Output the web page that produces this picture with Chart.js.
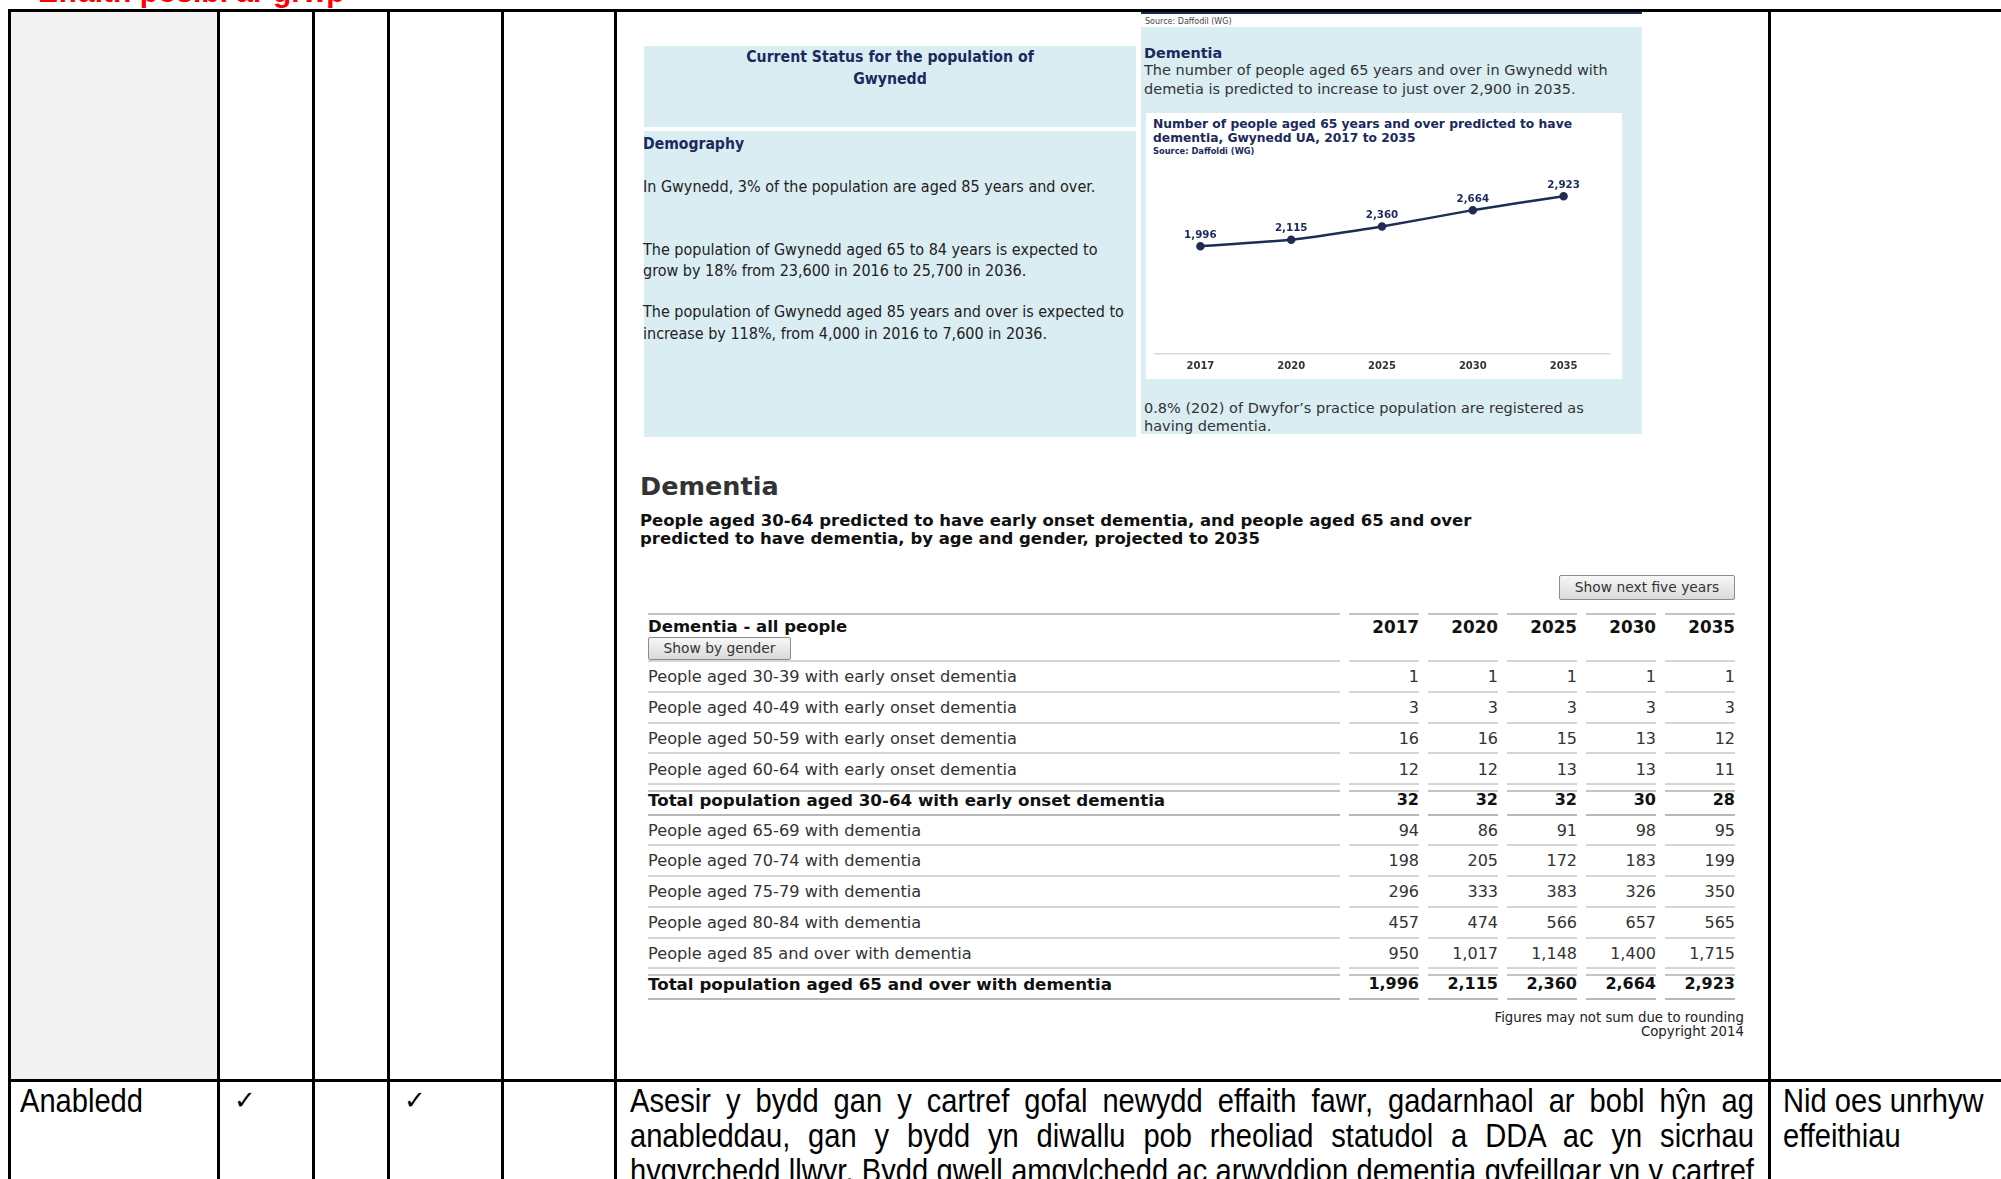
<!DOCTYPE html>
<html>
<head>
<meta charset="utf-8">
<script src="https://cdn.jsdelivr.net/npm/chart.js@4.4.1/dist/chart.umd.min.js"></script>
<style>
html, body { margin: 0; padding: 0; }
body { width: 2001px; height: 1179px; position: relative; overflow: hidden; background: #fff; font-family: "DejaVu Sans", sans-serif; }
.abs { position: absolute; }
.line { position: absolute; background: #000; }
.tah { font-family: "DejaVu Sans Condensed", "DejaVu Sans", sans-serif; font-stretch: condensed; }
.ver { font-family: "DejaVu Sans", sans-serif; }
.navy { color: #1b2a5c; }
.blue { position: absolute; background: #daedf3; }
.narrow { font-family: "Liberation Sans Narrow", "Liberation Sans", sans-serif; font-size: 34px; line-height: 35px; color: #000; transform: scaleX(0.856); transform-origin: 0 0; white-space: nowrap; }
.just { text-align: justify; text-align-last: justify; }
.btn { display: inline-block; box-sizing: border-box; border: 1px solid #8c8c8c; border-radius: 2px; background: linear-gradient(#f7f7f7, #dadada); color: #333; font-size: 13.8px; text-align: center; }
#tbl { position: absolute; left: 639px; top: 613px; width: 1105px; table-layout: fixed; border-collapse: separate; border-spacing: 9px 0; color: #333; }
#tbl th, #tbl td { padding: 0; border-bottom: 2px solid #d5d5d5; white-space: nowrap; }
#tbl th { border-top: 2px solid #c4c4c4; vertical-align: top; padding-top: 2px; height: 43px; box-sizing: border-box; }
#tbl td { padding: 5.2px 0 3.6px; line-height: 20px; font-size: 16.2px; }
#tbl td.num { text-align: right; font-size: 16px; }
#tbl tr.total td { font-weight: bold; color: #111; border-top: 5px solid #fff; box-shadow: inset 0 2px 0 #c4c4c4; padding: 0 0 3.4px; border-bottom-color: #b8b8b8; }
#tbl tr.total td:first-child { font-size: 16.7px; }
</style>
</head>
<body>

<!-- heading cut at top of page -->
<div class="abs" style="left:38px;top:-23px;font:bold 30px 'Liberation Sans',sans-serif;line-height:30px;color:#f00;">Effaith posibl ar grŵp</div>

<!-- outer document table -->
<div class="abs" style="left:11px;top:12px;width:206px;height:1067px;background:#f2f2f2;"></div>
<div class="line" style="left:8px;top:9px;width:1993px;height:3px;"></div>
<div class="line" style="left:8px;top:1079px;width:1993px;height:3px;"></div>
<div class="line" style="left:8px;top:9px;width:3px;height:1170px;"></div>
<div class="line" style="left:217px;top:9px;width:3px;height:1170px;"></div>
<div class="line" style="left:312px;top:9px;width:3px;height:1170px;"></div>
<div class="line" style="left:387px;top:9px;width:3px;height:1170px;"></div>
<div class="line" style="left:501px;top:9px;width:3px;height:1170px;"></div>
<div class="line" style="left:614px;top:9px;width:3px;height:1170px;"></div>
<div class="line" style="left:1768px;top:9px;width:3px;height:1170px;"></div>

<!-- left blue panel -->
<div class="blue" style="left:644px;top:46px;width:492px;height:81px;"></div>
<div class="abs tah navy" style="left:644px;top:46px;width:492px;text-align:center;font-weight:bold;font-size:15.7px;line-height:22px;">Current Status for the population of<br>Gwynedd</div>
<div class="blue" style="left:644px;top:131px;width:492px;height:306px;"></div>
<div class="abs tah navy" style="left:643px;top:134px;font-weight:bold;font-size:15.6px;line-height:20px;">Demography</div>
<div class="abs tah" style="left:643px;top:176px;font-size:16px;line-height:21px;color:#222;">In Gwynedd, 3% of the population are aged 85 years and over.</div>
<div class="abs tah" style="left:643px;top:239px;font-size:16px;line-height:21px;color:#222;">The population of Gwynedd aged 65 to 84 years is expected to<br>grow by 18% from 23,600 in 2016 to 25,700 in 2036.</div>
<div class="abs tah" style="left:643px;top:301px;font-size:16px;line-height:22px;color:#222;">The population of Gwynedd aged 85 years and over is expected to<br>increase by 118%, from 4,000 in 2016 to 7,600 in 2036.</div>

<!-- right blue panel with chart -->
<div class="abs" style="left:1141px;top:12px;width:501px;height:2px;background:#1b2a5c;"></div>
<div class="abs ver" style="left:1145px;top:17px;font-size:8px;line-height:10px;color:#444;">Source: Daffodil (WG)</div>
<div class="blue" style="left:1141px;top:27px;width:501px;height:407px;"></div>
<div class="abs ver navy" style="left:1144px;top:44px;font-weight:bold;font-size:14.4px;line-height:18px;">Dementia</div>
<div class="abs ver" style="left:1144px;top:61px;font-size:14.5px;line-height:18.5px;color:#333;">The number of people aged 65 years and over in Gwynedd with<br>demetia is predicted to increase to just over 2,900 in 2035.</div>
<div class="abs" style="left:1146px;top:113px;width:476px;height:266px;background:#fff;"></div>
<div class="abs ver navy" style="left:1153px;top:117px;font-weight:bold;font-size:12.3px;line-height:14px;">Number of people aged 65 years and over predicted to have<br>dementia, Gwynedd UA, 2017 to 2035</div>
<div class="abs ver navy" style="left:1153px;top:146px;font-weight:bold;font-size:8.3px;line-height:10px;">Source: Daffoldi (WG)</div>
<div class="abs" style="left:1146px;top:113px;width:476px;height:266px;"><canvas id="grafico" width="476" height="266"></canvas></div>
<div class="abs ver" style="left:1144px;top:399px;font-size:14.5px;line-height:18px;color:#333;">0.8% (202) of Dwyfor’s practice population are registered as<br>having dementia.</div>

<!-- dementia table section -->
<div class="abs ver" style="left:640px;top:470px;font-weight:bold;font-size:25.5px;line-height:32px;color:#333;">Dementia</div>
<div class="abs ver" style="left:640px;top:512px;font-weight:bold;font-size:16.5px;line-height:18px;color:#111;">People aged 30-64 predicted to have early onset dementia, and people aged 65 and over<br>predicted to have dementia, by age and gender, projected to 2035</div>
<div class="abs btn ver" style="left:1559px;top:575px;width:176px;height:25px;line-height:23px;">Show next five years</div>
<table id="tbl">
  <colgroup><col style="width:692px"><col style="width:70px"><col style="width:70px"><col style="width:70px"><col style="width:70px"><col style="width:70px"></colgroup>
  <thead><tr id="cabecalho"></tr></thead>
  <tbody id="corpo"></tbody>
</table>
<div class="abs ver" style="left:1200px;top:1011px;width:544px;text-align:right;font-size:13.3px;line-height:14px;color:#222;">Figures may not sum due to rounding<br>Copyright 2014</div>

<!-- second document row -->
<div class="abs narrow" style="left:20px;top:1083px;">Anabledd</div>
<div class="abs" style="left:234px;top:1083px;font:26px 'DejaVu Sans',sans-serif;line-height:35px;">✓</div>
<div class="abs" style="left:404px;top:1083px;font:26px 'DejaVu Sans',sans-serif;line-height:35px;">✓</div>
<div class="abs narrow" style="left:630px;top:1083px;width:1313px;white-space:normal;">
  <div class="just">Asesir y bydd gan y cartref gofal newydd effaith fawr, gadarnhaol ar bobl hŷn ag</div>
  <div class="just">anableddau, gan y bydd yn diwallu pob rheoliad statudol a DDA ac yn sicrhau</div>
  <div class="just" style="word-spacing:-3px;">hygyrchedd llwyr. Bydd gwell amgylchedd ac arwyddion dementia gyfeillgar yn y cartref</div>
</div>
<div class="abs narrow" style="left:1783px;top:1083px;">Nid oes unrhyw<br>effeithiau</div>

<script>
// anos da tabela / eixo x
const anos = ["2017", "2020", "2025", "2030", "2035"];

// pessoas 30-64 com demencia precoce
const idade3039 = [1, 1, 1, 1, 1];
const idade4049 = [3, 3, 3, 3, 3];
const idade5059 = [16, 16, 15, 13, 12];
const idade6064 = [12, 12, 13, 13, 11];
const total3064 = [32, 32, 32, 30, 28];

// pessoas 65+ com demencia
const idade6569 = [94, 86, 91, 98, 95];
const idade7074 = [198, 205, 172, 183, 199];
const idade7579 = [296, 333, 383, 326, 350];
const idade8084 = [457, 474, 566, 657, 565];
const idade85mais = [950, 1017, 1148, 1400, 1715];
const total65mais = [1996, 2115, 2360, 2664, 2923];

const linhas = [
  ["People aged 30-39 with early onset dementia", idade3039, false],
  ["People aged 40-49 with early onset dementia", idade4049, false],
  ["People aged 50-59 with early onset dementia", idade5059, false],
  ["People aged 60-64 with early onset dementia", idade6064, false],
  ["Total population aged 30-64 with early onset dementia", total3064, true],
  ["People aged 65-69 with dementia", idade6569, false],
  ["People aged 70-74 with dementia", idade7074, false],
  ["People aged 75-79 with dementia", idade7579, false],
  ["People aged 80-84 with dementia", idade8084, false],
  ["People aged 85 and over with dementia", idade85mais, false],
  ["Total population aged 65 and over with dementia", total65mais, true],
];

function numero(v) {
  return v.toLocaleString("en-GB");
}

function montarTabela() {
  let cab = document.getElementById("cabecalho");
  let html = '<th style="text-align:left;font-size:16.5px;line-height:20px;color:#111;">Dementia - all people<br>' +
    '<span class="btn ver" style="width:143px;height:23px;line-height:21px;font-weight:normal;">Show by gender</span></th>';
  for (let i = 0; i < anos.length; i++) {
    html += '<th style="text-align:right;font-size:16.8px;line-height:20px;color:#111;">' + anos[i] + "</th>";
  }
  cab.innerHTML = html;

  let corpo = document.getElementById("corpo");
  let h = "";
  for (let i = 0; i < linhas.length; i++) {
    let l = linhas[i];
    h += l[2] ? '<tr class="total">' : "<tr>";
    h += "<td>" + l[0] + "</td>";
    for (let j = 0; j < l[1].length; j++) {
      h += '<td class="num">' + numero(l[1][j]) + "</td>";
    }
    h += "</tr>";
  }
  corpo.innerHTML = h;
}

const rotulosPontos = {
  id: "rotulosPontos",
  afterDatasetsDraw(chart) {
    let ctx = chart.ctx;
    let meta = chart.getDatasetMeta(0);
    ctx.save();
    ctx.font = "bold 10.3px 'DejaVu Sans'";
    ctx.fillStyle = "#1b2a5c";
    ctx.textAlign = "center";
    ctx.textBaseline = "bottom";
    for (let i = 0; i < meta.data.length; i++) {
      let pt = meta.data[i];
      ctx.fillText(numero(total65mais[i]), pt.x, pt.y - 6);
    }
    ctx.restore();
  },
};

function gerarGrafico() {
  new Chart(document.getElementById("grafico"), {
    type: "line",
    data: {
      labels: anos,
      datasets: [
        {
          data: total65mais,
          borderColor: "#1f2d55",
          backgroundColor: "#1f2d55",
          borderWidth: 2.5,
          pointRadius: 3,
          pointBackgroundColor: "#1f2d55",
          tension: 0.15,
        },
      ],
    },
    plugins: [rotulosPontos],
    options: {
      responsive: false,
      animation: false,
      layout: {
        padding: { top: 25, left: 9, right: 13, bottom: 1 },
      },
      plugins: {
        legend: { display: false },
        tooltip: { enabled: false },
      },
      scales: {
        x: {
          offset: true,
          grid: { display: false, drawTicks: false },
          border: { display: true, color: "#d9d9d9", width: 1.5 },
          ticks: {
            color: "#333",
            padding: 6,
            font: { family: "DejaVu Sans", size: 10, weight: "bold" },
          },
        },
        y: {
          display: false,
          min: 0,
          max: 4000,
        },
      },
    },
  });
}

montarTabela();
gerarGrafico();
</script>
</body>
</html>
